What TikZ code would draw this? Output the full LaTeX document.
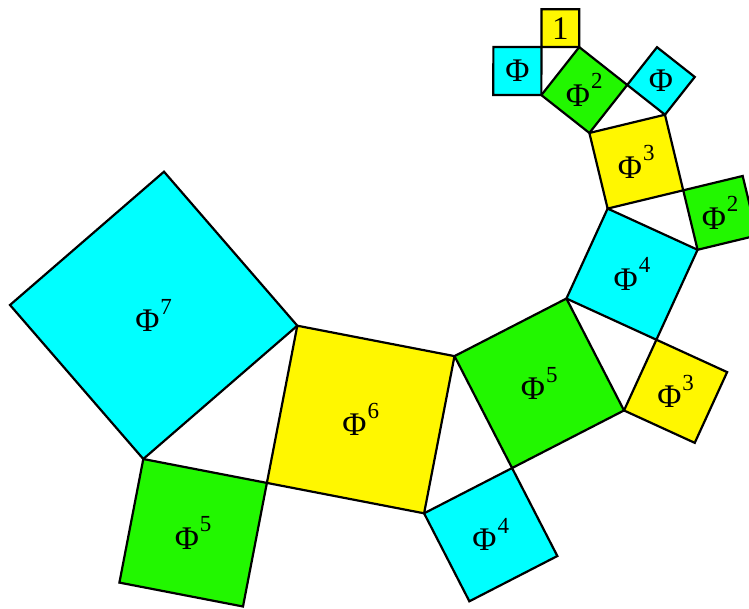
\documentclass[tikz,border=0pt]{standalone}
\usepackage{fontspec}
\setmainfont{Liberation Serif}
\usetikzlibrary{calc}
\definecolor{cy}{RGB}{0,255,255}
\definecolor{ye}{RGB}{255,247,0}
\definecolor{gr}{RGB}{34,247,0}
\newcommand\pw[1]{Φ\kern1pt\raisebox{17.5pt}{\fontsize{23}{23}\selectfont #1}}
\begin{document}
\begin{tikzpicture}[x=1pt,y=-1pt,
  sq/.style={draw=black, line width=2.2pt, line join=miter},
  lab/.style={font=\fontsize{33}{33}\selectfont, inner sep=0pt}]
\useasboundingbox (0,0) rectangle (749,608);
\def\k{0.786151}
\def\t{38.1727}
% start: hypotenuse of the largest triangle
\coordinate (A6) at (297.3,325.7);
\coordinate (B6) at (143.3,459);
% T6 and main square Phi^6
\coordinate (C6) at ($(A6)!\k!\t:(B6)$);
\coordinate (A5) at ($(A6)!1!90:(C6)$);
\coordinate (B5) at ($(A5)+(C6)-(A6)$);
% T5 and Phi^5
\coordinate (C5) at ($(A5)!\k!\t:(B5)$);
\coordinate (A4) at ($(A5)!1!90:(C5)$);
\coordinate (B4) at ($(A4)+(C5)-(A5)$);
% T4 and Phi^4
\coordinate (C4) at ($(A4)!\k!\t:(B4)$);
\coordinate (A3) at ($(A4)!1!90:(C4)$);
\coordinate (B3) at ($(A3)+(C4)-(A4)$);
% T3 and Phi^3
\coordinate (C3) at ($(A3)!\k!\t:(B3)$);
\coordinate (A2) at ($(A3)!1!90:(C3)$);
\coordinate (B2) at ($(A2)+(C3)-(A3)$);
% T2 and Phi^2
\coordinate (C2) at ($(A2)!\k!\t:(B2)$);
\coordinate (A1) at ($(A2)!1!90:(C2)$);
\coordinate (B1) at ($(A1)+(C2)-(A2)$);
% T1
\coordinate (C1) at ($(A1)!\k!\t:(B1)$);
% Phi^7 square
\coordinate (E1) at ($(A6)!1!-90:(B6)$);
\coordinate (E2) at ($(E1)+(B6)-(A6)$);
% side squares on small legs
\foreach \i in {1,...,6}{
  \coordinate (D\i a) at ($(C\i)!1!90:(B\i)$);
  \coordinate (D\i b) at ($(D\i a)+(B\i)-(C\i)$);
}
% left Phi square on big leg of T1
\coordinate (F1) at ($(A1)!1!90:(C1)$);
\coordinate (F2) at ($(F1)+(C1)-(A1)$);

% main chain
\draw[sq, fill=cy] (A6) -- (B6) -- (E2) -- (E1) -- cycle;
\draw[sq, fill=ye] (A6) -- (C6) -- (B5) -- (A5) -- cycle;
\draw[sq, fill=gr] (A5) -- (C5) -- (B4) -- (A4) -- cycle;
\draw[sq, fill=cy] (A4) -- (C4) -- (B3) -- (A3) -- cycle;
\draw[sq, fill=ye] (A3) -- (C3) -- (B2) -- (A2) -- cycle;
\draw[sq, fill=gr] (A2) -- (C2) -- (B1) -- (A1) -- cycle;
% side squares
\draw[sq, fill=gr] (C6) -- (B6) -- (D6b) -- (D6a) -- cycle;
\draw[sq, fill=cy] (C5) -- (B5) -- (D5b) -- (D5a) -- cycle;
\draw[sq, fill=ye] (C4) -- (B4) -- (D4b) -- (D4a) -- cycle;
\draw[sq, fill=gr] (C3) -- (B3) -- (D3b) -- (D3a) -- cycle;
\draw[sq, fill=cy] (C2) -- (B2) -- (D2b) -- (D2a) -- cycle;
\draw[sq, fill=ye] (C1) -- (B1) -- (D1b) -- (D1a) -- cycle;
\draw[sq, fill=cy] (A1) -- (C1) -- (F2) -- (F1) -- cycle;

% labels
\node[lab] (l7) at ($(A6)!0.5!(E2)$) {\pw{7}};
\node[lab] (l6) at ($(A6)!0.5!(B5)$) {\pw{6}};
\node[lab] (l5) at ($(A5)!0.5!(B4)$) {\pw{5}};
\node[lab] (l4) at ($(A4)!0.5!(B3)$) {\pw{4}};
\node[lab] (l3) at ($(A3)!0.5!(B2)$) {\pw{3}};
\node[lab] (l2) at ($(A2)!0.5!(B1)$) {\pw{2}};
\node[lab] (s5) at ($(C6)!0.5!(D6b)$) {\pw{5}};
\node[lab] (s4) at ($(C5)!0.5!(D5b)$) {\pw{4}};
\node[lab] (s3) at ($(C4)!0.5!(D4b)$) {\pw{3}};
\node[lab] (s2) at ($(C3)!0.5!(D3b)$) {\pw{2}};
\node[lab] (s1) at ($(C2)!0.5!(D2b)$) {Φ};
\node[lab] (s0) at ($(C1)!0.5!(D1b)$) {1};
\node[lab] (sl) at ($(A1)!0.5!(F2)$) {Φ};
\end{tikzpicture}
\end{document}
